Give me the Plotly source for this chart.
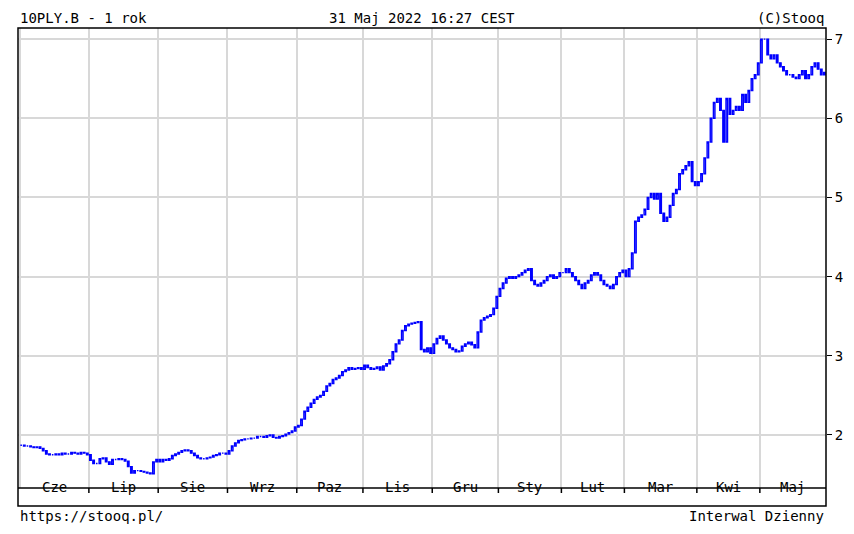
import plotly.graph_objects as go

months = ["Cze","Lip","Sie","Wrz","Paz","Lis","Gru","Sty","Lut","Mar","Kwi","Maj"]
jun = [1.87,1.86,1.86,1.85,1.84,1.85,1.83,1.80,1.76,1.75,1.75,1.76,1.75,1.77,1.76,1.76,1.78,1.77,1.76,1.78,1.77,1.75]
jul = [1.68,1.64,1.64,1.70,1.71,1.66,1.63,1.69,1.69,1.70,1.69,1.67,1.60,1.52,1.55,1.55,1.54,1.53,1.52,1.51,1.66,1.69]
aug = [1.66,1.69,1.68,1.70,1.74,1.76,1.78,1.80,1.81,1.80,1.77,1.74,1.71,1.70,1.70,1.71,1.72,1.74,1.75,1.77,1.77,1.76]
sep = [1.80,1.86,1.90,1.93,1.94,1.95,1.95,1.96,1.96,1.98,1.98,1.97,1.99,2.00,1.97,1.96,1.98,1.99,2.01,2.03,2.05,2.10]
octo = [2.12,2.20,2.30,2.35,2.40,2.45,2.48,2.50,2.55,2.62,2.65,2.70,2.72,2.75,2.80,2.82,2.85,2.83,2.84,2.85,2.83]
nov = [2.88,2.85,2.83,2.84,2.86,2.82,2.87,2.90,2.95,3.05,3.15,3.20,3.32,3.38,3.40,3.41,3.42,3.43,3.08,3.05,3.10,3.03]
dec = [3.15,3.22,3.25,3.20,3.15,3.10,3.08,3.05,3.06,3.12,3.15,3.17,3.14,3.10,3.30,3.45,3.48,3.50,3.52,3.60,3.75]
jan = [3.85,3.92,3.98,4.00,3.98,4.00,4.02,4.05,4.08,4.10,3.95,3.90,3.88,3.92,3.95,4.00,4.02,3.98,4.00,4.05]
feb = [4.05,4.10,4.05,4.00,3.95,3.90,3.85,3.92,3.95,4.02,4.05,4.02,3.95,3.90,3.88,3.85,3.90,4.00,4.05,4.08]
mar = [4.00,4.10,4.30,4.70,4.75,4.78,4.85,5.00,5.05,4.98,5.05,4.80,4.70,4.75,4.90,5.05,5.10,5.30,5.35,5.40,5.45,5.20,5.15]
apr = [5.20,5.30,5.50,5.70,6.00,6.20,6.25,6.10,5.70,6.25,6.05,6.10,6.15,6.10,6.30,6.20,6.35,6.50,6.55,6.70]
may = [7.00,7.00,6.80,6.75,6.80,6.70,6.65,6.60,6.55,6.55,6.52,6.50,6.55,6.60,6.50,6.55,6.65,6.70,6.62,6.55,6.58]
series = [jun,jul,aug,sep,octo,nov,dec,jan,feb,mar,apr,may]
y_ticks = [2,3,4,5,6,7]

close = [v for m in series for v in m]
opn = [close[0]] + close[:-1]
high = [max(o, c) for o, c in zip(opn, close)]
low = [min(o, c) for o, c in zip(opn, close)]
x = list(range(len(close)))

bounds, mids, s = [], [], 0
for m in series:
    bounds.append(s - 0.5)
    mids.append(s + len(m) / 2 - 0.5)
    s += len(m)

fig = go.Figure(go.Candlestick(
    x=x, open=opn, high=high, low=low, close=close,
    increasing=dict(line=dict(color="#0000ff", width=1.4), fillcolor="white"),
    decreasing=dict(line=dict(color="#0000ff", width=1.4), fillcolor="#0000ff"),
    whiskerwidth=0, showlegend=False))

mono = "DejaVu Sans Mono"
fig.update_layout(
    width=854, height=534, margin=dict(l=10, r=36, t=20, b=54),
    paper_bgcolor="white", plot_bgcolor="white",
    font=dict(family=mono, size=14, color="black"),
    xaxis=dict(range=[-1, len(close) - 0.5], tickvals=bounds, ticktext=[""] * len(bounds),
               showgrid=True, gridcolor="#d8d8d8", gridwidth=1.5, ticks="",
               rangeslider=dict(visible=False), zeroline=False),
    yaxis=dict(side="right", range=[1.33, 7.14], tickvals=y_ticks, showgrid=True,
               gridcolor="#d8d8d8", gridwidth=1.5, ticks="outside", ticklen=5,
               tickcolor="black", zeroline=False, tickfont=dict(family=mono, size=14)),
)
yb = -18 / 460
fig.add_shape(type="rect", xref="paper", yref="paper", x0=0, x1=1, y0=yb, y1=1,
              line=dict(color="black", width=1.5))
fig.add_shape(type="line", xref="paper", yref="paper", x0=0, x1=1, y0=0, y1=0,
              line=dict(color="black", width=1.5))
for b in bounds[1:]:
    fig.add_shape(type="line", xref="x", yref="paper", x0=b, x1=b, y0=0, y1=-5 / 460,
                  line=dict(color="black", width=1.5))
for mx, lab in zip(mids, months):
    fig.add_annotation(x=mx, y=yb / 2, xref="x", yref="paper", text=lab, showarrow=False,
                       font=dict(family=mono, size=14))
for txt, xx, yy, anc in [("10PLY.B - 1 rok", 0, 1.0, "left"),
                         ("31 Maj 2022 16:27 CEST", 0.5, 1.0, "center"),
                         ("(C)Stooq", 1.0, 1.0, "right")]:
    fig.add_annotation(x=xx, y=yy, xref="paper", yref="paper", text=txt, showarrow=False,
                       xanchor=anc, yanchor="bottom", font=dict(family=mono, size=14))
fig.add_annotation(x=0, y=yb, xref="paper", yref="paper", text="https://stooq.pl/",
                   showarrow=False, xanchor="left", yanchor="top", font=dict(family=mono, size=14))
fig.add_annotation(x=1, y=yb, xref="paper", yref="paper", text="Interwal Dzienny",
                   showarrow=False, xanchor="right", yanchor="top", font=dict(family=mono, size=14))
fig.write_html("out.html")
